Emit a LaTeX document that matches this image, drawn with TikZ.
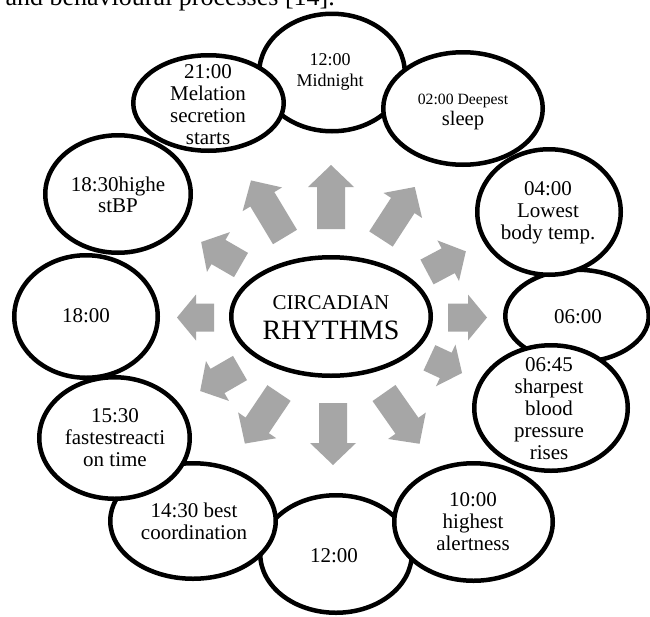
\documentclass[tikz,border=0pt]{standalone}
\usepackage{fontspec}
\setmainfont{Liberation Serif}
\usetikzlibrary{shapes.geometric}
\definecolor{arrowgray}{RGB}{166,166,166}
\tikzset{
  bubble/.style={ellipse, draw=black, line width=4.5pt, fill=white, inner sep=0pt},
  lbl/.style={align=center, inner sep=0pt, font=\fontsize{21}{22}\selectfont},
}
\newcommand{\blkarrow}[5]{%
  \fill[arrowgray, shift={(#1,#2)}, rotate=#3]
    (0,-14) -- ({#4-#5},-14) -- ({#4-#5},-23) -- (#4,0) -- ({#4-#5},23) -- ({#4-#5},14) -- (0,14) -- cycle;}
\begin{document}
\begin{tikzpicture}[x=1pt,y=-1pt]
\useasboundingbox (0,0) rectangle (650,616);
\clip (0,0) rectangle (650,616);
\fill[white] (0,0) rectangle (650,616);

% cropped line of running text at the top
\node[anchor=base east, inner sep=0pt, font=\fontsize{26}{30}\selectfont] (top) at (335,5) {and behavioural processes [14].};

% block arrows
\blkarrow{331}{229}{90}{64}{22}
\blkarrow{381}{239}{57}{62}{22}
\blkarrow{427}{272}{28}{44}{20}
\blkarrow{448}{317.5}{0}{39}{19}
\blkarrow{429.4}{357.8}{-25}{36}{18}
\blkarrow{384}{393}{-55}{62}{22}
\blkarrow{333}{403}{-90}{62}{22}
\blkarrow{279}{393}{-124}{61}{22}
\blkarrow{240}{368}{-150}{46}{20}
\blkarrow{214}{317.5}{180}{37}{19}
\blkarrow{241}{265}{150}{46}{20}
\blkarrow{285}{237}{121}{66}{22}

% centre
\node[bubble, minimum width=199.5pt, minimum height=118.5pt] (c) at (331,316.5) {};

% outer ellipses (drawing order gives the overlaps)
\node[bubble, minimum width=145.5pt, minimum height=117.5pt] (e1) at (332,72.5) {};
\node[bubble, minimum width=143.5pt, minimum height=92.5pt] (e4) at (577,316) {};
\node[bubble, minimum width=151.5pt, minimum height=117.5pt] (e7) at (336,554) {};
\node[bubble, minimum width=143.5pt, minimum height=122.5pt] (e10) at (86,316.5) {};
\node[bubble, minimum width=159.5pt, minimum height=112.5pt] (e2) at (463,108.5) {};
\node[bubble, minimum width=143.5pt, minimum height=125.5pt] (e3) at (549,212) {};
\node[bubble, minimum width=153.5pt, minimum height=125.5pt] (e5) at (551,408) {};
\node[bubble, minimum width=158.5pt, minimum height=117.5pt] (e6) at (473.5,522) {};
\node[bubble, minimum width=165.5pt, minimum height=115.5pt] (e8) at (193,521) {};
\node[bubble, minimum width=150.5pt, minimum height=121.5pt] (e9) at (114.5,438) {};
\node[bubble, minimum width=145.5pt, minimum height=117.5pt] (e11) at (118,194) {};
\node[bubble, minimum width=150.5pt, minimum height=95.5pt] (e12) at (208.5,103) {};

% texts
\node[lbl, font=\fontsize{28}{30}\selectfont] (tc) at (331,318) {{\fontsize{21}{30}\selectfont CIRCADIAN}\\RHYTHMS};
\node[lbl, font=\fontsize{18}{20.5}\selectfont] (t1) at (330,72) {12:00\\Midnight};
\node[lbl, font=\fontsize{20.6}{21}\selectfont] (t2) at (463,112) {{\fontsize{15.7}{21}\selectfont 02:00 Deepest}\\sleep};
\node[lbl] (t3) at (548,212.5) {04:00\\Lowest\\body temp.};
\node[lbl] (t4) at (578,317) {06:00};
\node[lbl] (t5) at (549,409) {06:45\\sharpest\\blood\\pressure\\rises};
\node[lbl] (t6) at (473,522) {10:00\\highest\\alertness};
\node[lbl] (t7) at (334,556) {12:00};
\node[lbl] (t8) at (194,521) {14:30 best\\coordination};
\node[lbl] (t9) at (115,438) {15:30\\fastestreacti\\on time};
\node[lbl] (t10) at (86,316) {18:00};
\node[lbl, font=\fontsize{21}{21}\selectfont] (t11) at (118,194.5) {18:30highe\\stBP};
\node[lbl] (t12) at (208,105) {21:00\\Melation\\secretion\\starts};
\end{tikzpicture}
\end{document}
